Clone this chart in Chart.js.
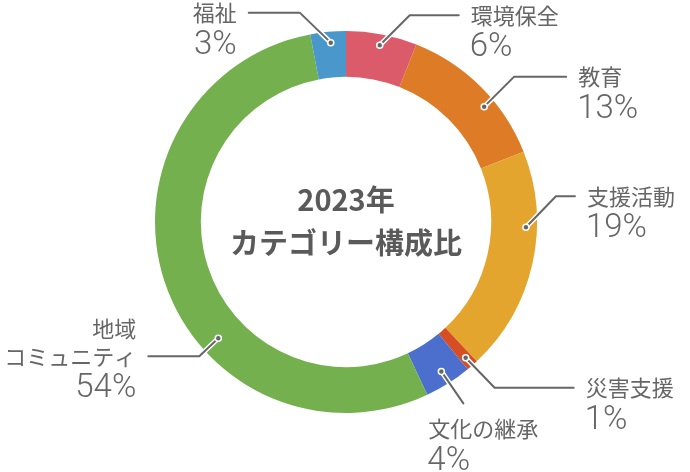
<!DOCTYPE html>
<html lang="ja">
<head>
<meta charset="utf-8">
<script src="https://cdn.jsdelivr.net/npm/chart.js@4"></script>
<style>
  html, body { margin: 0; padding: 0; background: #fff; }
  canvas { display: block; }
</style>
</head>
<body>
<canvas id="myChart" width="690" height="472"></canvas>
<script>
// data
const categories = ['環境保全', '教育', '支援活動', '災害支援', '文化の継承', '地域\nコミュニティ', '福祉'];
const shares = [6, 13, 19, 1, 4, 54, 3];
const colors = ['#DC5B6B', '#DE7B26', '#E4A52E', '#D64E24', '#4C6FCD', '#74B04D', '#4A98CB'];
const centerTitle = ['2023年', 'カテゴリー構成比'];

// leader line layout: t = where along the slice, r = where across the ring,
// (dx, dy) = elbow offset from the dot, h = horizontal run
const leaders = [
    {t: 0.50, r: 0.76, dx: 30, dy: -30, h: 49},
    {t: 0.61, r: 0.76, dx: 30, dy: -30, h: 52},
    {t: 0.34, r: 0.76, dx: 30, dy: -31, h: 19},
    {t: 0.50, r: 0.78, dx: 29, dy: 30, h: 79},
    {t: 0.49, r: 0.70, dx: 22, dy: 32, h: 0, below: true},
    {t: 0.375, r: 0.60, dx: -19, dy: 18, h: -51},
    {t: 0.55, r: 0.76, dx: -31, dy: -30, h: -51}
];

const FONT = '"Noto Sans CJK JP", "Noto Sans", sans-serif';
const NUM_FONT = 'Roboto, "Noto Sans CJK JP", sans-serif';

const labelPlugin = {
    id: 'leaderLabels',
    afterDraw(chart) {
        const ctx = chart.ctx;
        const arcs = chart.getDatasetMeta(0).data;
        ctx.save();
        arcs.forEach((arc, i) => {
            const L = leaders[i];
            const p = arc.getProps(['x', 'y', 'startAngle', 'endAngle', 'innerRadius', 'outerRadius'], true);
            const a = p.startAngle + (p.endAngle - p.startAngle) * L.t;
            const r = p.innerRadius + (p.outerRadius - p.innerRadius) * L.r;
            const x0 = p.x + Math.cos(a) * r;
            const y0 = p.y + Math.sin(a) * r;
            const x1 = x0 + L.dx;
            const y1 = y0 + L.dy;
            const x2 = x1 + L.h;

            ctx.lineCap = 'round';
            ctx.lineJoin = 'round';
            // white halo then gray line
            [['#ffffff', 5], ['#666666', 2]].forEach(([c, w]) => {
                ctx.strokeStyle = c;
                ctx.lineWidth = w;
                ctx.beginPath();
                ctx.moveTo(x0, y0);
                ctx.lineTo(x1, y1);
                if (L.h !== 0) ctx.lineTo(x2, y1);
                ctx.stroke();
            });
            ctx.fillStyle = '#666666';
            ctx.strokeStyle = '#ffffff';
            ctx.lineWidth = 1.5;
            ctx.beginPath();
            ctx.arc(x0, y0, 3, 0, Math.PI * 2);
            ctx.fill();
            ctx.stroke();

            const lines = categories[i].split('\n');
            const pct = shares[i] + '%';
            let tx, ty, align;
            if (L.below) {
                tx = x1 - 35;
                ty = y1 + 25;
                align = 'left';
            } else if (L.h > 0) {
                tx = x2 + 12;
                ty = y1;
                align = 'left';
            } else {
                tx = x2 - 12;
                ty = y1;
                align = 'right';
            }
            ctx.fillStyle = '#666666';
            ctx.textAlign = align;
            ctx.textBaseline = 'middle';
            ctx.font = '22px ' + FONT;
            lines.forEach((s, k) => {
                ctx.fillText(s, tx, ty - (lines.length - 1 - k) * 28);
            });
            ctx.font = '300 33px ' + NUM_FONT;
            ctx.fillText(pct, tx - (align === 'left' ? 1 : 0), ty + 33);
        });

        // centre title
        const c = arcs[0];
        ctx.fillStyle = '#5a5a5a';
        ctx.textAlign = 'center';
        ctx.textBaseline = 'middle';
        ctx.font = 'bold 29px ' + FONT;
        ctx.fillText(centerTitle[0], c.x, c.y - 22);
        ctx.fillText(centerTitle[1], c.x, c.y + 21);
        ctx.restore();
    }
};

const ctx = document.getElementById('myChart').getContext('2d');

const chart = new Chart(ctx, {
    type: 'doughnut',
    data: {
        labels: categories,
        datasets: [{
            data: shares,
            backgroundColor: colors,
            borderWidth: 0
        }]
    },
    options: {
        responsive: false,
        animation: false,
        cutout: '76%',
        layout: {
            padding: {top: 31, bottom: 59, left: 2, right: 0}
        },
        plugins: {
            legend: { display: false },
            tooltip: { enabled: false }
        }
    },
    plugins: [labelPlugin]
});
</script>
</body>
</html>
